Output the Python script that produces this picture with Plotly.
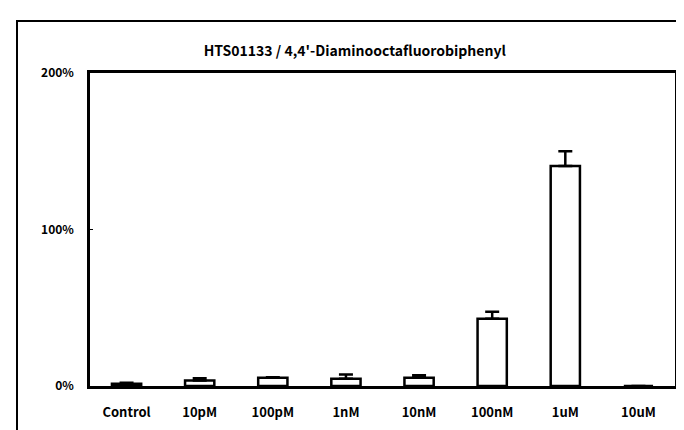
import plotly.graph_objects as go

categories = ["Control", "10pM", "100pM", "1nM", "10nM", "100nM", "1uM", "10uM"]
values = [1.5, 3.5, 5.2, 4.6, 5.3, 43.0, 140.5, 0.0]
errors = [0.5, 1.5, 0.4, 2.7, 1.6, 4.4, 9.5, 0.0]
y_ticks = [0, 100, 200]
y_labels = ["0%", "100%", "200%"]
title_text = "HTS01133 / 4,4'-Diaminooctafluorobiphenyl"

FONT = "Noto Sans CJK JP, Liberation Sans, Arial"

fig = go.Figure()
fig.add_trace(go.Bar(
    x=categories, y=values,
    marker=dict(color="white", line=dict(color="black", width=2.5)),
    error_y=dict(type="data", array=errors, symmetric=False, arrayminus=[0]*len(errors),
                 color="black", thickness=2.5, width=7),
    width=0.4,
))

fig.update_layout(
    width=684, height=430,
    margin=dict(l=82, r=17, t=65, b=52),
    paper_bgcolor="white", plot_bgcolor="white",
    showlegend=False,
    title=dict(text=title_text, x=0.507, xanchor="center", y=0.9, yanchor="middle",
               font=dict(family=FONT, size=14, color="black", weight="bold")),
    font=dict(family=FONT, size=12, color="black"),
    xaxis=dict(showline=True, linecolor="black", linewidth=2.5, mirror=True,
               ticks="", showgrid=False, ticklabelstandoff=13,
               tickfont=dict(family=FONT, size=13, color="black", weight="bold")),
    yaxis=dict(range=[0, 200], tickvals=y_ticks, ticktext=y_labels,
               showline=True, linecolor="black", linewidth=2.5, mirror=True,
               ticks="inside", ticklen=3, tickcolor="black", showgrid=False,
               zeroline=False, ticklabelstandoff=11,
               tickfont=dict(family=FONT, size=12, color="black", weight="bold")),
    shapes=[dict(type="rect", xref="paper", yref="paper",
                 x0=(9 - 82) / 585, x1=1.2, y0=-0.3, y1=(378 - 13) / 313,
                 line=dict(color="black", width=2), fillcolor="rgba(0,0,0,0)", layer="below")],
)

fig.write_html("out.html")
